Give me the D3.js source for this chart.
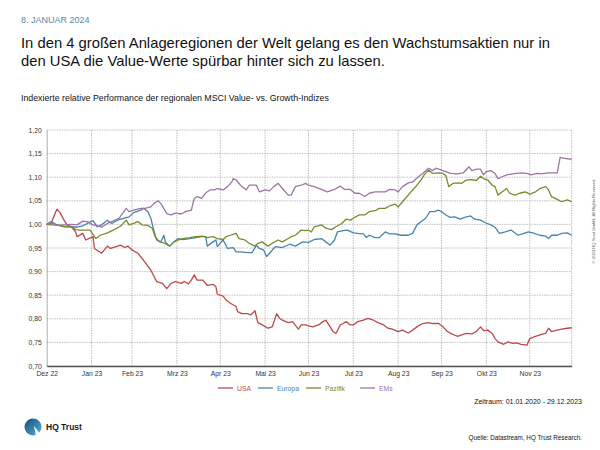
<!DOCTYPE html>
<html><head><meta charset="utf-8">
<script src="https://cdn.jsdelivr.net/npm/d3@7"></script>
<style>
html,body{margin:0;padding:0;background:#fff;}
svg{display:block;font-family:"Liberation Sans",Arial,Helvetica,sans-serif;}
</style></head>
<body>
<svg id="chart" width="600" height="450"></svg>
<script>
// ---- data ----
const seriesNames = ["USA", "Europa", "Pazifik", "EMs"];
const seriesColors = ["#bb4a48", "#4784ad", "#778b2c", "#9c74a9"];
const tickDates = ["2022-12-31","2023-01-31","2023-02-28","2023-03-31","2023-04-30","2023-05-31","2023-06-30","2023-07-31","2023-08-31","2023-09-30","2023-10-31","2023-11-30"];
const tickLabels = ["Dez 22","Jan 23","Feb 23","Mrz 23","Apr 23","Mai 23","Jun 23","Jul 23","Aug 23","Sep 23","Okt 23","Nov 23"];
const yTicks = [0.70,0.75,0.80,0.85,0.90,0.95,1.00,1.05,1.10,1.15,1.20];

const usa = [["2022-12-31",1.000],["2023-01-03",1.002],["2023-01-07",1.032],["2023-01-09",1.026],["2023-01-12",1.009],["2023-01-14",0.999],["2023-01-17",0.995],["2023-01-20",0.984],["2023-01-21",0.974],["2023-01-25",0.981],["2023-01-27",0.967],["2023-02-01",0.974],["2023-02-02",0.949],["2023-02-07",0.939],["2023-02-11",0.954],["2023-02-13",0.949],["2023-02-17",0.953],["2023-02-20",0.956],["2023-02-23",0.951],["2023-02-25",0.954],["2023-02-28",0.946],["2023-03-04",0.939],["2023-03-08",0.924],["2023-03-13",0.903],["2023-03-17",0.879],["2023-03-21",0.875],["2023-03-24",0.864],["2023-03-27",0.875],["2023-03-30",0.879],["2023-04-03",0.875],["2023-04-05",0.879],["2023-04-08",0.874],["2023-04-10",0.882],["2023-04-12",0.893],["2023-04-14",0.882],["2023-04-18",0.882],["2023-04-21",0.871],["2023-04-25",0.873],["2023-04-27",0.868],["2023-04-28",0.852],["2023-05-02",0.848],["2023-05-04",0.840],["2023-05-07",0.833],["2023-05-11",0.826],["2023-05-12",0.815],["2023-05-15",0.811],["2023-05-19",0.811],["2023-05-21",0.808],["2023-05-24",0.817],["2023-05-26",0.792],["2023-05-29",0.787],["2023-06-02",0.780],["2023-06-05",0.783],["2023-06-08",0.811],["2023-06-10",0.801],["2023-06-12",0.797],["2023-06-16",0.792],["2023-06-19",0.794],["2023-06-23",0.778],["2023-06-25",0.787],["2023-06-28",0.787],["2023-06-30",0.785],["2023-07-03",0.783],["2023-07-07",0.787],["2023-07-10",0.794],["2023-07-12",0.797],["2023-07-15",0.783],["2023-07-17",0.773],["2023-07-19",0.769],["2023-07-22",0.787],["2023-07-24",0.790],["2023-07-26",0.794],["2023-07-29",0.787],["2023-07-31",0.787],["2023-08-03",0.794],["2023-08-07",0.797],["2023-08-10",0.801],["2023-08-14",0.797],["2023-08-17",0.792],["2023-08-21",0.787],["2023-08-24",0.780],["2023-08-27",0.778],["2023-08-31",0.773],["2023-09-03",0.776],["2023-09-07",0.770],["2023-09-10",0.776],["2023-09-14",0.785],["2023-09-17",0.790],["2023-09-21",0.792],["2023-09-24",0.790],["2023-09-28",0.790],["2023-10-01",0.783],["2023-10-04",0.773],["2023-10-07",0.768],["2023-10-11",0.763],["2023-10-14",0.766],["2023-10-17",0.769],["2023-10-21",0.768],["2023-10-24",0.773],["2023-10-27",0.783],["2023-10-29",0.775],["2023-11-01",0.776],["2023-11-04",0.769],["2023-11-06",0.758],["2023-11-08",0.751],["2023-11-12",0.746],["2023-11-15",0.751],["2023-11-18",0.748],["2023-11-21",0.749],["2023-11-24",0.746],["2023-11-28",0.744],["2023-11-30",0.758],["2023-12-04",0.763],["2023-12-07",0.766],["2023-12-11",0.769],["2023-12-13",0.780],["2023-12-15",0.773],["2023-12-19",0.776],["2023-12-22",0.778],["2023-12-26",0.780],["2023-12-29",0.781]];

const europa = [["2022-12-31",1.000],["2023-01-03",1.006],["2023-01-07",0.999],["2023-01-12",0.996],["2023-01-17",0.995],["2023-01-21",0.994],["2023-01-25",0.997],["2023-01-28",1.002],["2023-02-01",1.008],["2023-02-04",0.995],["2023-02-07",0.999],["2023-02-11",1.009],["2023-02-14",1.002],["2023-02-18",1.009],["2023-02-22",1.013],["2023-02-26",1.016],["2023-03-01",1.025],["2023-03-06",1.030],["2023-03-08",1.034],["2023-03-11",1.027],["2023-03-13",1.013],["2023-03-15",0.988],["2023-03-17",0.967],["2023-03-20",0.963],["2023-03-22",0.977],["2023-03-23",0.963],["2023-03-26",0.954],["2023-03-29",0.963],["2023-04-01",0.970],["2023-04-04",0.968],["2023-04-09",0.970],["2023-04-13",0.972],["2023-04-17",0.974],["2023-04-20",0.974],["2023-04-21",0.954],["2023-04-25",0.963],["2023-04-27",0.967],["2023-04-28",0.953],["2023-05-02",0.967],["2023-05-05",0.949],["2023-05-09",0.951],["2023-05-11",0.942],["2023-05-14",0.942],["2023-05-19",0.940],["2023-05-22",0.940],["2023-05-25",0.956],["2023-05-27",0.949],["2023-05-30",0.946],["2023-06-01",0.932],["2023-06-04",0.942],["2023-06-07",0.953],["2023-06-12",0.951],["2023-06-17",0.958],["2023-06-21",0.954],["2023-06-26",0.963],["2023-06-30",0.962],["2023-07-04",0.968],["2023-07-09",0.970],["2023-07-12",0.963],["2023-07-15",0.956],["2023-07-18",0.967],["2023-07-20",0.984],["2023-07-24",0.987],["2023-07-27",0.988],["2023-07-31",0.982],["2023-08-03",0.981],["2023-08-07",0.980],["2023-08-09",0.972],["2023-08-11",0.977],["2023-08-15",0.972],["2023-08-18",0.972],["2023-08-22",0.984],["2023-08-25",0.980],["2023-08-29",0.980],["2023-09-02",0.977],["2023-09-07",0.977],["2023-09-10",0.981],["2023-09-13",0.999],["2023-09-16",1.006],["2023-09-19",1.013],["2023-09-22",1.027],["2023-09-25",1.027],["2023-09-28",1.030],["2023-09-30",1.027],["2023-10-03",1.020],["2023-10-06",1.015],["2023-10-09",1.016],["2023-10-13",1.011],["2023-10-16",1.015],["2023-10-20",1.018],["2023-10-23",1.011],["2023-10-27",1.009],["2023-10-30",1.004],["2023-11-03",0.999],["2023-11-06",0.994],["2023-11-09",0.981],["2023-11-13",0.984],["2023-11-17",0.988],["2023-11-22",0.977],["2023-11-26",0.981],["2023-11-29",0.984],["2023-12-02",0.982],["2023-12-07",0.977],["2023-12-11",0.975],["2023-12-13",0.970],["2023-12-15",0.977],["2023-12-19",0.977],["2023-12-22",0.981],["2023-12-26",0.982],["2023-12-29",0.977]];

const pazifik = [["2022-12-31",1.000],["2023-01-03",0.999],["2023-01-07",0.999],["2023-01-12",0.995],["2023-01-17",0.995],["2023-01-20",0.989],["2023-01-23",0.988],["2023-01-27",0.988],["2023-01-30",0.988],["2023-02-03",0.970],["2023-02-06",0.977],["2023-02-11",0.982],["2023-02-15",0.988],["2023-02-20",0.996],["2023-02-24",1.009],["2023-02-26",0.999],["2023-03-01",1.002],["2023-03-04",1.006],["2023-03-07",0.999],["2023-03-11",0.998],["2023-03-14",0.992],["2023-03-16",0.974],["2023-03-19",0.963],["2023-03-22",0.961],["2023-03-26",0.954],["2023-03-29",0.963],["2023-04-02",0.968],["2023-04-04",0.970],["2023-04-09",0.972],["2023-04-13",0.974],["2023-04-18",0.975],["2023-04-21",0.972],["2023-04-25",0.974],["2023-04-28",0.970],["2023-05-02",0.968],["2023-05-04",0.974],["2023-05-07",0.977],["2023-05-11",0.981],["2023-05-13",0.970],["2023-05-17",0.967],["2023-05-20",0.960],["2023-05-24",0.954],["2023-05-26",0.960],["2023-05-29",0.963],["2023-06-02",0.954],["2023-06-05",0.960],["2023-06-09",0.967],["2023-06-12",0.963],["2023-06-16",0.970],["2023-06-18",0.974],["2023-06-21",0.977],["2023-06-25",0.988],["2023-06-28",0.987],["2023-06-30",0.988],["2023-07-02",0.984],["2023-07-04",0.995],["2023-07-09",0.999],["2023-07-12",0.992],["2023-07-16",0.989],["2023-07-19",0.995],["2023-07-23",1.002],["2023-07-26",1.011],["2023-07-29",1.009],["2023-08-01",1.015],["2023-08-04",1.020],["2023-08-08",1.020],["2023-08-11",1.027],["2023-08-15",1.029],["2023-08-18",1.034],["2023-08-22",1.034],["2023-08-25",1.039],["2023-08-29",1.043],["2023-08-31",1.037],["2023-09-03",1.048],["2023-09-07",1.062],["2023-09-10",1.073],["2023-09-13",1.083],["2023-09-16",1.095],["2023-09-18",1.105],["2023-09-21",1.115],["2023-09-24",1.108],["2023-09-28",1.109],["2023-10-01",1.108],["2023-10-03",1.103],["2023-10-05",1.080],["2023-10-08",1.087],["2023-10-12",1.088],["2023-10-14",1.087],["2023-10-17",1.094],["2023-10-21",1.095],["2023-10-24",1.093],["2023-10-27",1.102],["2023-10-29",1.097],["2023-11-01",1.094],["2023-11-04",1.083],["2023-11-06",1.080],["2023-11-08",1.062],["2023-11-11",1.069],["2023-11-14",1.076],["2023-11-16",1.066],["2023-11-20",1.062],["2023-11-23",1.066],["2023-11-27",1.069],["2023-11-30",1.064],["2023-12-04",1.069],["2023-12-07",1.076],["2023-12-11",1.080],["2023-12-13",1.073],["2023-12-15",1.059],["2023-12-19",1.053],["2023-12-22",1.048],["2023-12-26",1.052],["2023-12-29",1.048]];

const ems = [["2022-12-31",1.000],["2023-01-03",1.003],["2023-01-07",0.998],["2023-01-12",0.999],["2023-01-17",1.000],["2023-01-21",0.999],["2023-01-25",1.007],["2023-01-28",1.006],["2023-02-01",0.999],["2023-02-04",0.997],["2023-02-07",0.994],["2023-02-11",1.002],["2023-02-14",1.006],["2023-02-19",1.013],["2023-02-24",1.034],["2023-02-26",1.027],["2023-03-01",1.030],["2023-03-06",1.034],["2023-03-09",1.034],["2023-03-13",1.037],["2023-03-15",1.044],["2023-03-18",1.050],["2023-03-20",1.044],["2023-03-24",1.023],["2023-03-27",1.020],["2023-03-30",1.024],["2023-04-03",1.022],["2023-04-06",1.027],["2023-04-10",1.030],["2023-04-12",1.055],["2023-04-14",1.059],["2023-04-17",1.055],["2023-04-20",1.067],["2023-04-23",1.073],["2023-04-26",1.073],["2023-04-28",1.076],["2023-05-02",1.073],["2023-05-05",1.080],["2023-05-08",1.090],["2023-05-09",1.097],["2023-05-11",1.094],["2023-05-14",1.083],["2023-05-18",1.073],["2023-05-20",1.083],["2023-05-25",1.083],["2023-05-27",1.069],["2023-05-31",1.073],["2023-06-03",1.071],["2023-06-06",1.080],["2023-06-09",1.087],["2023-06-12",1.076],["2023-06-16",1.062],["2023-06-18",1.062],["2023-06-21",1.080],["2023-06-25",1.083],["2023-06-28",1.087],["2023-06-30",1.083],["2023-07-04",1.080],["2023-07-09",1.074],["2023-07-13",1.069],["2023-07-18",1.074],["2023-07-22",1.081],["2023-07-25",1.074],["2023-07-29",1.074],["2023-08-01",1.066],["2023-08-04",1.066],["2023-08-08",1.059],["2023-08-11",1.066],["2023-08-15",1.069],["2023-08-18",1.069],["2023-08-22",1.069],["2023-08-25",1.074],["2023-08-29",1.073],["2023-08-31",1.069],["2023-09-03",1.080],["2023-09-07",1.088],["2023-09-10",1.090],["2023-09-14",1.101],["2023-09-17",1.108],["2023-09-21",1.119],["2023-09-24",1.114],["2023-09-26",1.119],["2023-09-29",1.116],["2023-10-03",1.112],["2023-10-06",1.108],["2023-10-11",1.107],["2023-10-15",1.109],["2023-10-19",1.122],["2023-10-21",1.114],["2023-10-24",1.117],["2023-10-27",1.117],["2023-10-29",1.105],["2023-10-31",1.112],["2023-11-03",1.114],["2023-11-06",1.108],["2023-11-08",1.097],["2023-11-11",1.101],["2023-11-14",1.105],["2023-11-18",1.107],["2023-11-21",1.108],["2023-11-24",1.109],["2023-11-28",1.108],["2023-12-01",1.105],["2023-12-05",1.108],["2023-12-08",1.107],["2023-12-12",1.109],["2023-12-15",1.109],["2023-12-19",1.109],["2023-12-21",1.142],["2023-12-24",1.140],["2023-12-29",1.138]];

const seriesData = [usa, europa, pazifik, ems];

// ---- texts ----
const dateText = "8. JANUAR 2024";
const titleLines = ["In den 4 großen Anlageregionen der Welt gelang es den Wachstumsaktien nur in",
                    "den USA die Value-Werte spürbar hinter sich zu lassen."];
const subtitle = "Indexierte relative Performance der regionalen MSCI Value- vs. Growth-Indizes";
const periodText = "Zeitraum: 01.01.2020 - 29.12.2023";
const sourceText = "Quelle: Datastream, HQ Trust Research.";
const copyrightText = "© 2023 HQ Trust GmbH. All Rights Reserved.";
const logoText = "HQ Trust";

// ---- drawing ----
const parse = d3.timeParse("%Y-%m-%d");
const svg = d3.select("#chart");
const m = {left: 46.7, right: 571.7, top: 130, bottom: 366};

const x = d3.scaleTime()
  .domain([parse("2022-12-31"), parse("2023-12-29")])
  .range([m.left, m.right]);
const y = d3.scaleLinear().domain([0.70, 1.20]).range([m.bottom, m.top]);

// header
svg.append("text").attr("x", 21).attr("y", 23).attr("font-size", 9)
  .attr("fill", "#5b88a8").text(dateText);
titleLines.forEach((t, i) => {
  svg.append("text").attr("x", 21).attr("y", 47.5 + i * 18.5).attr("font-size", 14.8)
    .attr("fill", "#111").text(t);
});
svg.append("text").attr("x", 21).attr("y", 101).attr("font-size", 8.8)
  .attr("fill", "#111").text(subtitle);

// grid
const grid = svg.append("g");
grid.selectAll("line.h").data(yTicks).join("line")
  .attr("x1", m.left).attr("x2", m.right)
  .attr("y1", d => y(d)).attr("y2", d => y(d))
  .attr("stroke", "#b0b0b0").attr("stroke-width", 0.8).attr("stroke-dasharray", "1.5,1");
grid.selectAll("line.v").data(tickDates.slice(1).concat(["2023-12-29"])).join("line")
  .attr("x1", d => x(parse(d))).attr("x2", d => x(parse(d)))
  .attr("y1", m.top).attr("y2", m.bottom)
  .attr("stroke", "#b0b0b0").attr("stroke-width", 0.8).attr("stroke-dasharray", "1.5,1");

// y axis
const yAxis = d3.axisLeft(y).tickValues(yTicks).tickSize(0).tickPadding(5)
  .tickFormat(d => d3.format(".2f")(d).replace(".", ","));
const gy = svg.append("g").attr("transform", `translate(${m.left},0)`).call(yAxis);
gy.select(".domain").attr("stroke", "#999").attr("stroke-width", 0.8);
gy.selectAll("text").attr("font-size", 6.8).attr("fill", "#333")
  .attr("font-family", "'Liberation Sans',Arial,sans-serif");

// x axis
const xAxis = d3.axisBottom(x).tickValues(tickDates.map(parse)).tickSize(0).tickPadding(5)
  .tickFormat((d, i) => tickLabels[i]);
const gx = svg.append("g").attr("transform", `translate(0,${m.bottom})`).call(xAxis);
gx.select(".domain").attr("stroke", "#555").attr("stroke-width", 1.6);
gx.selectAll("text").attr("font-size", 6.8).attr("fill", "#333")
  .attr("font-family", "'Liberation Sans',Arial,sans-serif");

// lines
const line = d3.line().x(d => x(parse(d[0]))).y(d => y(d[1]));
seriesData.forEach((s, i) => {
  svg.append("path").datum(s).attr("d", line)
    .attr("fill", "none").attr("stroke", seriesColors[i]).attr("stroke-width", 1.3)
    .attr("stroke-linejoin", "round");
});

// legend
const legendX = [218, 258, 306, 360];
const lg = svg.append("g");
seriesNames.forEach((n, i) => {
  lg.append("line").attr("x1", legendX[i]).attr("x2", legendX[i] + 15)
    .attr("y1", 388).attr("y2", 388).attr("stroke", seriesColors[i]).attr("stroke-width", 1.3);
  lg.append("text").attr("x", legendX[i] + 19).attr("y", 390.5).attr("font-size", 6.8)
    .attr("fill", seriesColors[i]).text(n);
});

// footer texts
svg.append("text").attr("x", 582).attr("y", 404).attr("text-anchor", "end")
  .attr("font-size", 7).attr("fill", "#111").text(periodText);
svg.append("text").attr("x", 582).attr("y", 440).attr("text-anchor", "end")
  .attr("font-size", 6.3).attr("fill", "#111").text(sourceText);
svg.append("text").attr("transform", "translate(595,221) rotate(-90)")
  .attr("text-anchor", "middle").attr("font-size", 4.2).attr("fill", "#555").text(copyrightText);

// logo
const defs = svg.append("defs");
const grad = defs.append("linearGradient").attr("id", "lg1").attr("x1", 0).attr("y1", 0).attr("x2", 1).attr("y2", 1);
grad.append("stop").attr("offset", "0%").attr("stop-color", "#0b4f7a");
grad.append("stop").attr("offset", "100%").attr("stop-color", "#5fb0d0");
const logo = svg.append("g").attr("transform", "translate(33,427)");
logo.append("circle").attr("r", 8.5).attr("fill", "url(#lg1)");
logo.append("path").attr("d", "M1,-1 L9,9 L3,9 Z").attr("fill", "#fff");
svg.append("text").attr("x", 46).attr("y", 430).attr("font-size", 8.5)
  .attr("font-weight", "bold").attr("fill", "#1a1a1a").text(logoText);
</script>
</body></html>
